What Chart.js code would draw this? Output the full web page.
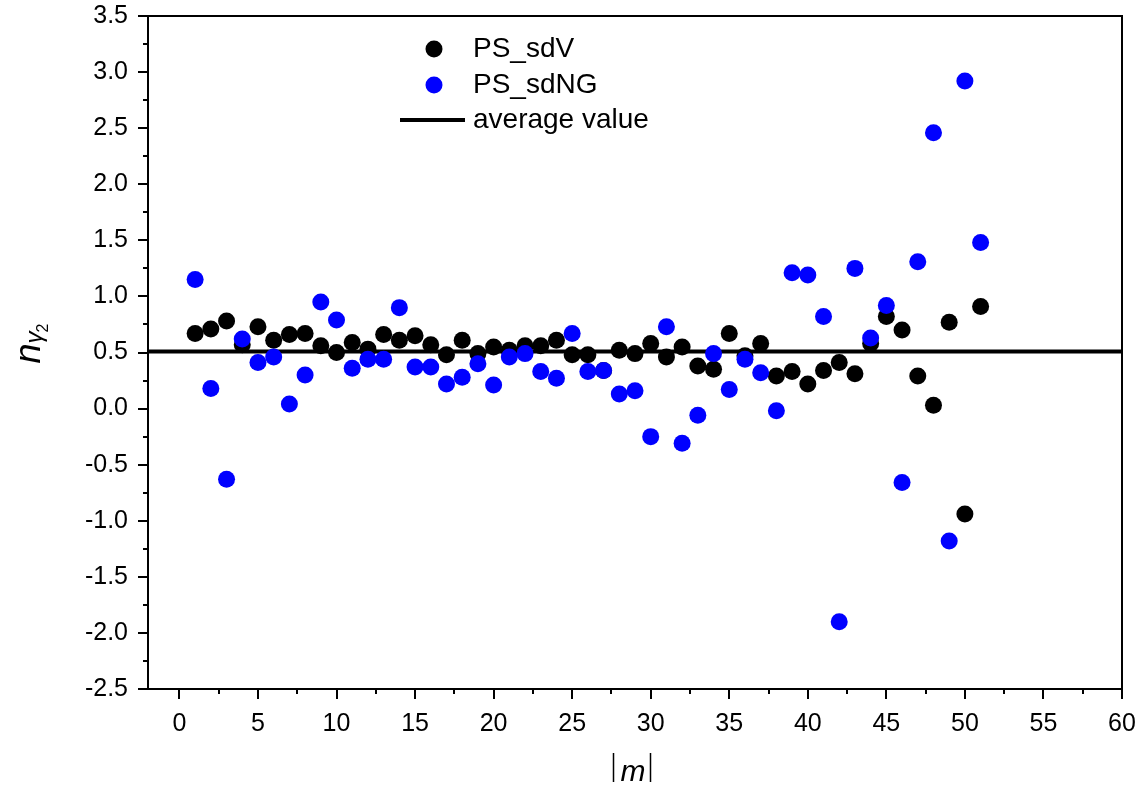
<!DOCTYPE html>
<html>
<head>
<meta charset="utf-8">
<script src="https://cdn.jsdelivr.net/npm/chart.js@4.4.1/dist/chart.umd.min.js"></script>
<style>
html,body{margin:0;padding:0;background:#fff;}
canvas{display:block;}
</style>
</head>
<body>
<canvas id="c" width="1143" height="787"></canvas>
<script>
// ---- data ----
const mValues = [1,2,3,4,5,6,7,8,9,10,11,12,13,14,15,16,17,18,19,20,21,22,23,24,25,26,27,28,29,30,31,32,33,34,35,36,37,38,39,40,41,42,43,44,45,46,47,48,49,50,51];
const sdV = [0.67,0.71,0.78,0.57,0.73,0.61,0.66,0.67,0.56,0.50,0.59,0.53,0.66,0.61,0.65,0.57,0.48,0.61,0.49,0.55,0.52,0.56,0.56,0.61,0.48,0.48,0.34,0.52,0.49,0.58,0.46,0.55,0.38,0.35,0.67,0.47,0.58,0.29,0.33,0.22,0.34,0.41,0.31,0.58,0.82,0.70,0.29,0.03,0.77,-0.94,0.91];
const sdNG = [1.15,0.18,-0.63,0.62,0.41,0.46,0.04,0.30,0.95,0.79,0.36,0.44,0.44,0.90,0.37,0.37,0.22,0.28,0.40,0.21,0.46,0.49,0.33,0.27,0.67,0.33,0.34,0.13,0.16,-0.25,0.73,-0.31,-0.06,0.49,0.17,0.44,0.32,-0.02,1.21,1.19,0.82,-1.90,1.25,0.63,0.92,-0.66,1.31,2.46,-1.18,2.92,1.48];
const averageValue = 0.51;
const xRange = [-2, 60];
const yRange = [-2.5, 3.5];
const xTickValues = [0,5,10,15,20,25,30,35,40,45,50,55,60];
const xMinorTicks = [2.5,7.5,12.5,17.5,22.5,27.5,32.5,37.5,42.5,47.5,52.5,57.5];
const yMinorTicks = [-2.25,-1.75,-1.25,-0.75,-0.25,0.25,0.75,1.25,1.75,2.25,2.75,3.25];
const seriesNames = ['PS_sdV','PS_sdNG','average value'];

const FONT = "'Liberation Sans', Arial, sans-serif";

const toPts = (ys) => mValues.map((m,i)=>({x:m,y:ys[i]}));

const decor = {
  id:'decor',
  afterDraw(chart){
    const ctx = chart.ctx, a = chart.chartArea;
    const xs = chart.scales.x, ys = chart.scales.y;
    ctx.save();
    ctx.strokeStyle = '#000';
    ctx.lineWidth = 2;
    // top & right border
    ctx.beginPath();
    ctx.moveTo(a.left, a.top); ctx.lineTo(a.right, a.top); ctx.lineTo(a.right, a.bottom);
    ctx.stroke();
    // minor ticks
    ctx.beginPath();
    xMinorTicks.forEach(v=>{const p=Math.round(xs.getPixelForValue(v)); ctx.moveTo(p,a.bottom); ctx.lineTo(p,a.bottom+5);});
    yMinorTicks.forEach(v=>{const p=Math.round(ys.getPixelForValue(v)); ctx.moveTo(a.left,p); ctx.lineTo(a.left-5,p);});
    ctx.stroke();

    // legend
    ctx.fillStyle = '#000';
    ctx.textBaseline = 'middle';
    ctx.textAlign = 'left';
    ctx.font = '28px ' + FONT;
    ctx.beginPath(); ctx.arc(434, 49, 8.5, 0, Math.PI*2); ctx.fillStyle='#000'; ctx.fill();
    ctx.fillText(seriesNames[0], 473, 49);
    ctx.beginPath(); ctx.arc(434, 85, 8.5, 0, Math.PI*2); ctx.fillStyle='#0000ff'; ctx.fill();
    ctx.fillStyle='#000';
    ctx.fillText(seriesNames[1], 473, 85);
    ctx.lineWidth = 4;
    ctx.beginPath(); ctx.moveTo(400,120); ctx.lineTo(465,120); ctx.stroke();
    ctx.fillText(seriesNames[2], 473, 120);

    // y axis title: n_{γ2}
    ctx.save();
    ctx.translate(40, 343);
    ctx.rotate(-Math.PI/2);
    ctx.textBaseline = 'alphabetic';
    ctx.textAlign = 'left';
    ctx.font = 'italic 36px ' + FONT;
    const nW = ctx.measureText('n').width;
    ctx.font = 'italic 24px ' + FONT;
    const gW = ctx.measureText('γ').width;
    ctx.font = '16px ' + FONT;
    const tW = ctx.measureText('2').width;
    let x0 = -(nW + gW + tW)/2;
    ctx.font = 'italic 36px ' + FONT;
    ctx.fillText('n', x0, 0);
    ctx.font = 'italic 24px ' + FONT;
    ctx.fillText('γ', x0 + nW, 2);
    ctx.font = '16px ' + FONT;
    ctx.fillText('2', x0 + nW + gW - 1, 8);
    ctx.restore();

    // x axis title: |m|
    ctx.textBaseline = 'alphabetic';
    ctx.lineWidth = 1.5;
    ctx.beginPath();
    ctx.moveTo(613.5, 753); ctx.lineTo(613.5, 782);
    ctx.moveTo(650.5, 753); ctx.lineTo(650.5, 782);
    ctx.stroke();
    ctx.font = 'italic 30px ' + FONT;
    ctx.textAlign = 'center';
    ctx.fillText('m', 633, 781);
    ctx.restore();
  }
};

new Chart(document.getElementById('c'), {
  type: 'scatter',
  data: {
    datasets: [
      {label: seriesNames[1], data: toPts(sdNG), backgroundColor:'#0000ff', borderColor:'#0000ff', pointRadius:8.5, pointHoverRadius:8.5, borderWidth:0, order:1},
      {label: seriesNames[0], data: toPts(sdV), backgroundColor:'#000', borderColor:'#000', pointRadius:8.5, pointHoverRadius:8.5, borderWidth:0, order:2},
      {label: seriesNames[2], type:'line', data: [{x:xRange[0], y:averageValue},{x:xRange[1], y:averageValue}], borderColor:'#000', borderWidth:4, pointRadius:0, fill:false, order:3}
    ]
  },
  options: {
    responsive:false,
    animation:false,
    devicePixelRatio:1,
    layout:{padding:{top:16, right:21, left:0, bottom:0}},
    plugins:{legend:{display:false}, tooltip:{enabled:false}},
    scales:{
      x:{
        type:'linear', min:xRange[0], max:xRange[1],
        afterBuildTicks(s){ s.ticks = xTickValues.map(v=>({value:v})); },
        afterFit(s){ s.height = 98; s.paddingLeft = 0; s.paddingRight = 0; },
        grid:{display:true, drawOnChartArea:false, drawTicks:true, tickLength:10, color:'#000', lineWidth:2},
        border:{display:true, color:'#000', width:2},
        ticks:{color:'#000', font:{family:FONT, size:25}, padding:10, maxRotation:0, autoSkip:false, callback:v=>String(v)}
      },
      y:{
        type:'linear', min:yRange[0], max:yRange[1],
        ticks:{stepSize:0.5, color:'#000', font:{family:FONT, size:25}, padding:10, callback:v=>Number(v).toFixed(1)},
        afterFit(s){ s.width = 148; s.paddingTop = 0; s.paddingBottom = 0; },
        grid:{display:true, drawOnChartArea:false, drawTicks:true, tickLength:10, color:'#000', lineWidth:2},
        border:{display:true, color:'#000', width:2}
      }
    }
  },
  plugins:[decor]
});
</script>
</body>
</html>
